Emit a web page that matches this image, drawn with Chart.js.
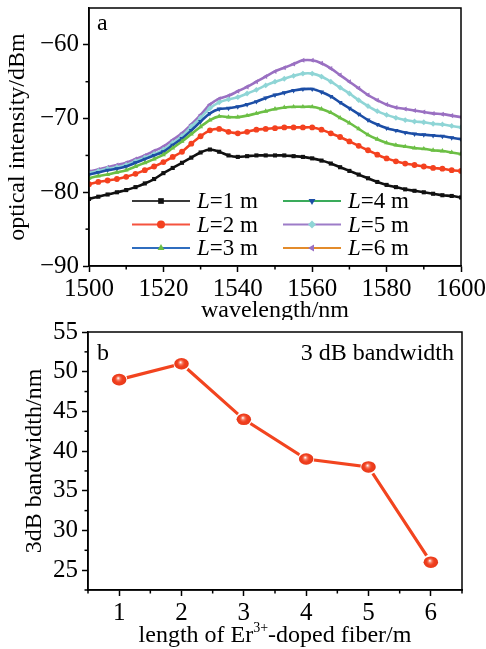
<!DOCTYPE html>
<html>
<head>
<meta charset="utf-8">
<script src="https://cdn.jsdelivr.net/npm/chart.js@4.4.1/dist/chart.umd.min.js"></script>
<style>
  html, body { margin: 0; padding: 0; background: #fff; }
  #wrap { position: relative; width: 486px; height: 649px; }
  .panel { position: absolute; left: 0; width: 486px; }
</style>
</head>
<body>
<div id="wrap">
  <div class="panel" style="top:0;height:320px"><canvas id="chart-espectro"></canvas></div>
  <div class="panel" style="top:320px;height:329px"><canvas id="chart-ancho"></canvas></div>
</div>
<script>
// ---- datos (a): espectros ----
const longitudOnda = [1500, 1502.5, 1505, 1507.5, 1510, 1512.5, 1515, 1517.5, 1520, 1522.5, 1525, 1527.5, 1530, 1532.5, 1535, 1537.5, 1540, 1542.5, 1545, 1547.5, 1550, 1552.5, 1555, 1557.5, 1560, 1562.5, 1565, 1567.5, 1570, 1572.5, 1575, 1577.5, 1580, 1582.5, 1585, 1587.5, 1590, 1592.5, 1595, 1597.5, 1600];
const potL1 = [-80.9, -80.6, -80.3, -80.0, -79.7, -79.3, -78.8, -78.2, -77.4, -76.7, -76.0, -75.3, -74.6, -74.2, -74.5, -75.0, -75.2, -75.1, -75.0, -75.0, -75.0, -75.0, -75.1, -75.2, -75.4, -75.7, -76.1, -76.6, -77.1, -77.6, -78.1, -78.6, -79.0, -79.3, -79.6, -79.8, -80.0, -80.2, -80.4, -80.5, -80.7];
const potL2 = [-78.9, -78.6, -78.4, -78.2, -77.9, -77.5, -77.0, -76.5, -75.9, -75.2, -74.5, -73.4, -72.4, -71.6, -71.4, -71.8, -72.0, -71.8, -71.5, -71.4, -71.3, -71.2, -71.2, -71.2, -71.2, -71.5, -72.0, -72.5, -73.1, -73.7, -74.3, -74.9, -75.4, -75.8, -76.1, -76.3, -76.5, -76.7, -76.8, -77.0, -77.1];
const potL3 = [-78.1, -77.8, -77.6, -77.3, -77.0, -76.5, -76.0, -75.5, -74.9, -74.0, -73.1, -72.1, -71.1, -70.2, -69.7, -69.8, -69.8, -69.6, -69.3, -69.0, -68.7, -68.5, -68.4, -68.4, -68.4, -68.7, -69.2, -69.9, -70.6, -71.4, -72.2, -72.8, -73.3, -73.6, -73.8, -74.0, -74.1, -74.3, -74.4, -74.6, -74.8];
const potL4 = [-77.6, -77.3, -77.0, -76.8, -76.5, -76.0, -75.5, -75.0, -74.5, -73.6, -72.7, -71.6, -70.4, -69.3, -68.7, -68.6, -68.4, -68.1, -67.7, -67.2, -66.8, -66.5, -66.2, -66.0, -66.0, -66.4, -67.0, -67.8, -68.6, -69.4, -70.2, -70.8, -71.3, -71.6, -71.9, -72.1, -72.2, -72.3, -72.4, -72.6, -72.8];
const potL5 = [-77.4, -77.1, -76.8, -76.6, -76.3, -75.8, -75.3, -74.8, -74.2, -73.3, -72.4, -71.1, -69.9, -68.6, -67.8, -67.4, -67.1, -66.6, -66.1, -65.5, -65.0, -64.6, -64.2, -63.9, -63.9, -64.3, -65.0, -65.8, -66.6, -67.5, -68.3, -69.0, -69.5, -69.9, -70.2, -70.4, -70.5, -70.7, -70.8, -71.0, -71.2];
const potL6 = [-77.2, -76.9, -76.6, -76.3, -76.0, -75.5, -75.0, -74.4, -73.8, -72.9, -72.0, -70.8, -69.5, -68.1, -67.3, -66.9, -66.3, -65.7, -65.0, -64.3, -63.6, -63.1, -62.6, -62.1, -62.1, -62.5, -63.2, -64.1, -65.0, -65.9, -66.8, -67.5, -68.1, -68.5, -68.7, -68.9, -69.1, -69.3, -69.4, -69.6, -69.8];
const etiquetasL = ['1', '2', '3', '4', '5', '6'];
const ticksXa = [1500, 1520, 1540, 1560, 1580, 1600];
const menoresXa = [1510, 1530, 1550, 1570, 1590];
const ticksYa = [-90, -80, -70, -60];
const menoresYa = [-85, -75, -65];

// ---- datos (b): ancho de banda ----
const longitudFibra = [1, 2, 3, 4, 5, 6];
const anchoBanda = [49, 51, 44, 39, 38, 26];
const ticksXb = [1, 2, 3, 4, 5, 6];
const menoresXb = [0.5, 1.5, 2.5, 3.5, 4.5, 5.5, 6.5];
const ticksYb = [25, 30, 35, 40, 45, 50, 55];
const menoresYb = [22.5, 27.5, 32.5, 37.5, 42.5, 47.5, 52.5];

// estilos
const coloresCurva = ['#111111', '#f4411f', '#6cbf45', '#1c4ea6', '#8fd5d6', '#9a70c2'];
const coloresLeyenda = ['#3a3a3a', '#f5533f', '#2f6dbf', '#3aab5b', '#9d7cc8', '#e38b2b'];
const formas = ['rect', 'circle', 'triangle', 'triangle', 'rectRot', 'triangle'];
const rotaciones = [0, 0, 0, 180, 0, -90];
const SERIF = "'Liberation Serif', 'DejaVu Serif', serif";
const menos = v => String(v).replace('-', '\u2212');

Chart.defaults.animation = false;
Chart.defaults.font.family = SERIF;
Chart.defaults.color = '#000';

const marco = {
  id: 'marco',
  afterDraw(chart) {
    const { ctx, chartArea: a } = chart;
    ctx.save();
    ctx.strokeStyle = '#000';
    ctx.lineWidth = 1.5;
    ctx.strokeRect(a.left, a.top, a.right - a.left, a.bottom - a.top);
    const m = chart.options.plugins.marco || {};
    (m.x || []).forEach(v => {
      const px = chart.scales.x.getPixelForValue(v);
      ctx.beginPath(); ctx.moveTo(px, a.bottom); ctx.lineTo(px, a.bottom + 3.5); ctx.stroke();
    });
    (m.y || []).forEach(v => {
      const py = chart.scales.y.getPixelForValue(v);
      ctx.beginPath(); ctx.moveTo(a.left, py); ctx.lineTo(a.left - 3.5, py); ctx.stroke();
    });
    ctx.restore();
  }
};

function ejes(min, max, ticks, tamano, esY, fijo) {
  return {
    type: 'linear', min, max,
    afterBuildTicks: s => { s.ticks = ticks.map(v => ({ value: v })); },
    afterFit: s => {
      if (esY) { s.width = fijo; s.paddingTop = 0; s.paddingBottom = 0; }
      else { s.height = fijo; s.paddingLeft = 0; s.paddingRight = 0; }
    },
    grid: { drawOnChartArea: false, drawTicks: true, tickLength: 6, tickWidth: 1.5, tickColor: '#000' },
    border: { display: true, color: '#000', width: 1.5 },
    ticks: { font: { size: tamano }, padding: esY ? 4 : 2, maxRotation: 0, autoSkip: false, callback: v => menos(v) }
  };
}

// ---- (a) ----
const leyenda = {
  id: 'leyenda',
  afterDraw(chart) {
    const { ctx, chartArea: a } = chart;
    ctx.save();
    ctx.fillStyle = '#000';
    ctx.font = '24px ' + SERIF;
    ctx.textBaseline = 'alphabetic';
    ctx.fillText('a', a.left + 8, a.top + 22);
    // titulos de ejes
    ctx.textAlign = 'center';
    ctx.fillText('wavelength/nm', (a.left + a.right) / 2, a.bottom + 51);
    ctx.save();
    ctx.translate(a.left - 71, (a.top + a.bottom) / 2);
    ctx.rotate(-Math.PI / 2);
    ctx.textBaseline = 'middle';
    ctx.fillText('optical intensity/dBm', 0, 0);
    ctx.restore();
    // leyenda
    ctx.textAlign = 'left';
    ctx.textBaseline = 'middle';
    chart.data.datasets.forEach((d, i) => {
      const col = Math.floor(i / 3), fila = i % 3;
      const x0 = a.left + 43 + col * 151;
      const y = a.top + 193 + fila * 23.5;
      ctx.strokeStyle = coloresLeyenda[i];
      ctx.lineWidth = 2;
      ctx.beginPath(); ctx.moveTo(x0, y); ctx.lineTo(x0 + 58, y); ctx.stroke();
      ctx.fillStyle = d.pointBackgroundColor;
      ctx.strokeStyle = d.pointBackgroundColor;
      Chart.helpers.drawPoint(ctx, { pointStyle: d.pointStyle, rotation: d.rotation, radius: 4, borderWidth: 0 }, x0 + 29, y);
      ctx.fillStyle = '#000';
      ctx.font = 'italic 23px ' + SERIF;
      ctx.fillText('L', x0 + 65, y + 1);
      const w = ctx.measureText('L').width;
      ctx.font = '23px ' + SERIF;
      ctx.fillText('=' + etiquetasL[i] + ' m', x0 + 65 + w, y + 1);
    });
    ctx.restore();
  }
};

const seriesA = [potL1, potL2, potL3, potL4, potL5, potL6];
new Chart(document.getElementById('chart-espectro'), {
  type: 'line',
  data: {
    datasets: seriesA.map((serie, i) => ({
      label: 'L=' + etiquetasL[i] + ' m',
      data: longitudOnda.map((x, k) => ({ x, y: serie[k] })),
      borderColor: coloresCurva[i],
      backgroundColor: coloresCurva[i],
      pointBackgroundColor: coloresCurva[i],
      pointBorderColor: coloresCurva[i],
      pointStyle: formas[i],
      rotation: rotaciones[i],
      pointRadius: 2.9,
      pointBorderWidth: 0,
      borderWidth: 2.6,
      tension: 0.3
    }))
  },
  options: {
    responsive: true, maintainAspectRatio: false,
    layout: { padding: { left: 0, right: 25, top: 8, bottom: 0 } },
    plugins: { legend: { display: false }, tooltip: { enabled: false }, marco: { x: menoresXa, y: menoresYa } },
    scales: {
      x: ejes(1500, 1600, ticksXa, 25, false, 54),
      y: ejes(-90, -55, ticksYa, 25, true, 89)
    }
  },
  plugins: [marco, leyenda]
});

// ---- (b) ----
const rotulosB = {
  id: 'rotulosB',
  afterDatasetsDraw(chart) {
    const { ctx } = chart;
    const meta = chart.getDatasetMeta(0);
    ctx.save();
    meta.data.forEach(p => {
      ctx.fillStyle = '#ee3d1c';
      ctx.beginPath(); ctx.ellipse(p.x, p.y, 7.2, 5.8, 0, 0, Math.PI * 2); ctx.fill();
      const g = ctx.createRadialGradient(p.x - 1, p.y - 1.5, 0.3, p.x, p.y, 7.2);
      g.addColorStop(0, 'rgba(255,255,255,0.95)');
      g.addColorStop(0.22, 'rgba(255,170,150,0.6)');
      g.addColorStop(0.6, 'rgba(245,70,40,0)');
      g.addColorStop(1, 'rgba(190,30,5,0.35)');
      ctx.fillStyle = g;
      ctx.beginPath(); ctx.ellipse(p.x, p.y, 7.2, 5.8, 0, 0, Math.PI * 2); ctx.fill();
    });
    ctx.restore();
  },
  afterDraw(chart) {
    const { ctx, chartArea: a } = chart;
    ctx.save();
    ctx.fillStyle = '#000';
    ctx.font = '24px ' + SERIF;
    ctx.textBaseline = 'alphabetic';
    ctx.fillText('b', a.left + 9, a.top + 28);
    ctx.textAlign = 'right';
    ctx.fillText('3 dB bandwidth', a.right - 8, a.top + 28);
    // eje y
    ctx.textAlign = 'center';
    ctx.save();
    ctx.translate(a.left - 53, (a.top + a.bottom) / 2);
    ctx.rotate(-Math.PI / 2);
    ctx.textBaseline = 'middle';
    ctx.fillText('3dB bandwidth/nm', 0, 0);
    ctx.restore();
    // eje x con superindice
    const p1 = 'length of Er', sup = '3+', p2 = '-doped fiber/m';
    ctx.textAlign = 'left';
    const fN = '24px ' + SERIF, fS = '14px ' + SERIF;
    ctx.font = fN; const w1 = ctx.measureText(p1).width, w3 = ctx.measureText(p2).width;
    ctx.font = fS; const w2 = ctx.measureText(sup).width;
    let x = (a.left + a.right) / 2 - (w1 + w2 + w3) / 2;
    const yb = a.bottom + 52;
    ctx.font = fN; ctx.fillText(p1, x, yb); x += w1;
    ctx.font = fS; ctx.fillText(sup, x, yb - 10); x += w2;
    ctx.font = fN; ctx.fillText(p2, x, yb);
    ctx.restore();
  }
};

new Chart(document.getElementById('chart-ancho'), {
  type: 'line',
  data: {
    datasets: [{
      label: '3 dB bandwidth',
      data: longitudFibra.map((x, k) => ({ x, y: anchoBanda[k] })),
      borderColor: '#f2441f',
      borderWidth: 3.2,
      pointRadius: 8,
      pointBackgroundColor: '#ffffff',
      pointBorderColor: '#ffffff',
      pointBorderWidth: 0,
      tension: 0
    }]
  },
  options: {
    responsive: true, maintainAspectRatio: false,
    layout: { padding: { left: 0, right: 24, top: 12, bottom: 0 } },
    plugins: { legend: { display: false }, tooltip: { enabled: false }, marco: { x: menoresXb, y: menoresYb } },
    scales: {
      x: ejes(0.5, 6.5, ticksXb, 25, false, 59),
      y: ejes(22.5, 55, ticksYb, 25, true, 88)
    }
  },
  plugins: [marco, rotulosB]
});
</script>
</body>
</html>
